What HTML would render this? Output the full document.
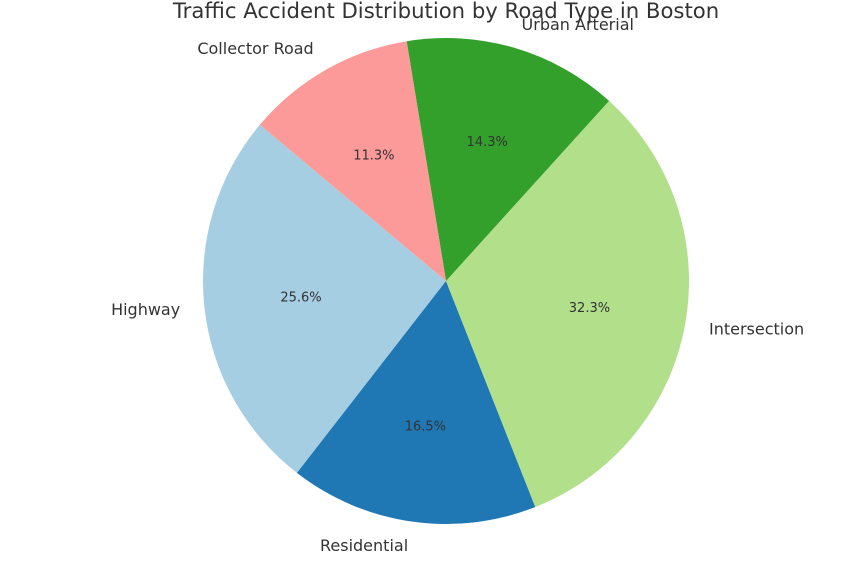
<!DOCTYPE html>
<html><head><meta charset="utf-8"><style>
body{margin:0;background:#fff;}
svg text{font-family:"DejaVu Sans","Liberation Sans",sans-serif;fill:#333;}
</style></head><body>
<svg id="chart" width="858" height="560" viewBox="0 0 858 560">
<text x="446" y="18" text-anchor="middle" font-size="21.2">Traffic Accident Distribution by Road Type in Boston</text>
<g id="slices"></g>
</svg>
<script>
const categories = ["Highway","Residential","Intersection","Urban Arterial","Collector Road"];
const values = [25.6,16.5,32.3,14.3,11.3];
const colors = ["#a6cee3","#1f78b4","#b2df8a","#33a02c","#fb9a99"];
const startAngle = 140;
const cx=446, cy=281, r=243;
const g=document.getElementById('slices');
const NS="http://www.w3.org/2000/svg";
const total=values.reduce((a,b)=>a+b,0);
let a0=startAngle;
function pt(a,rr){const t=a*Math.PI/180;return [cx+rr*Math.cos(t),cy-rr*Math.sin(t)];}
values.forEach((v,i)=>{
  const span=v/total*360, a1=a0+span;
  const p0=pt(a0,r), p1=pt(a1,r);
  const path=document.createElementNS(NS,'path');
  path.setAttribute('d',`M${cx},${cy} L${p0[0]},${p0[1]} A${r},${r} 0 ${span>180?1:0} 0 ${p1[0]},${p1[1]} Z`);
  path.setAttribute('fill',colors[i]);
  
  
  g.appendChild(path);
  const mid=a0+span/2;
  const lp=pt(mid,r*1.1);
  const t=document.createElementNS(NS,'text');
  t.setAttribute('x',lp[0]);t.setAttribute('y',lp[1]+5.5);
  t.setAttribute('font-size','16');
  t.setAttribute('text-anchor',Math.cos(mid*Math.PI/180)<0?'end':'start');
  t.textContent=categories[i];
  
  
  g.appendChild(t);
  const pp=pt(mid,r*0.6);
  const t2=document.createElementNS(NS,'text');
  t2.setAttribute('x',pp[0]);t2.setAttribute('y',pp[1]+5);
  t2.setAttribute('font-size','13');
  t2.setAttribute('text-anchor','middle');
  t2.textContent=(v/total*100).toFixed(1)+'%';
  
  
  g.appendChild(t2);
  a0=a1;
});
</script>
</body></html>
